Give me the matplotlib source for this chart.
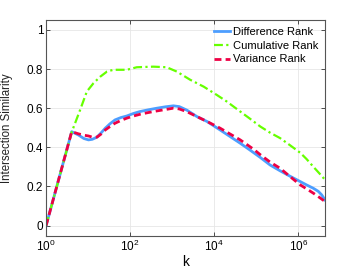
import numpy as np
import matplotlib
matplotlib.use('Agg')
import matplotlib.pyplot as plt

plt.rcParams['font.family'] = ['Liberation Sans', 'DejaVu Sans']
plt.rcParams['mathtext.fontset'] = 'custom'
plt.rcParams['mathtext.rm'] = 'Liberation Sans'

# data (x given as log10 k)
logk_diff = [0, 0.61, 0.77, 0.9, 1.01, 1.1, 1.21, 1.31, 1.41, 1.52, 1.64, 1.78,
             1.92, 2.08, 2.24, 2.44, 2.64, 2.84, 3.03, 3.17, 3.35, 3.59, 3.83,
             4.14, 4.38, 4.62, 4.86, 5.1, 5.33, 5.57, 5.81, 6.05, 6.2, 6.36,
             6.48, 6.56, 6.64]
difference = [0, 0.48, 0.463, 0.445, 0.438, 0.441, 0.452, 0.474, 0.498, 0.52,
              0.54, 0.552, 0.56, 0.573, 0.583, 0.592, 0.6, 0.607, 0.612, 0.608,
              0.59, 0.557, 0.532, 0.489, 0.455, 0.421, 0.385, 0.348, 0.31,
              0.28, 0.252, 0.225, 0.208, 0.191, 0.175, 0.157, 0.131]

logk_var = [0, 0.61, 0.77, 0.9, 1.01, 1.1, 1.21, 1.31, 1.41, 1.52, 1.64, 1.78,
            1.92, 2.08, 2.24, 2.44, 2.64, 2.84, 3.03, 3.17, 3.35, 3.59, 3.85,
            4.14, 4.38, 4.62, 4.94, 5.1, 5.33, 5.57, 5.81, 6.05, 6.2, 6.36,
            6.5, 6.64]
variance = [0, 0.48, 0.469, 0.462, 0.458, 0.452, 0.452, 0.468, 0.489, 0.506,
            0.523, 0.537, 0.549, 0.56, 0.569, 0.578, 0.586, 0.593, 0.6, 0.596,
            0.582, 0.557, 0.53, 0.498, 0.468, 0.438, 0.39, 0.362, 0.325,
            0.293, 0.25, 0.208, 0.188, 0.166, 0.145, 0.123]

logk_cum = [0, 0.61, 0.81, 0.97, 1.13, 1.29, 1.45, 1.6, 1.92, 2.16, 2.55, 2.87,
            3.11, 3.43, 3.75, 4.06, 4.3, 4.62, 4.86, 5.1, 5.33, 5.57, 5.81,
            6.05, 6.2, 6.36, 6.5, 6.64]
cumulative = [0, 0.478, 0.591, 0.685, 0.728, 0.761, 0.787, 0.796, 0.796, 0.809,
              0.812, 0.809, 0.787, 0.745, 0.71, 0.668, 0.634, 0.583, 0.545,
              0.506, 0.475, 0.447, 0.41, 0.372, 0.34, 0.301, 0.268, 0.234]

xticks = [1, 1e2, 1e4, 1e6]
xticklabels = ['$\\mathregular{10^{0}}$', '$\\mathregular{10^{2}}$',
               '$\\mathregular{10^{4}}$', '$\\mathregular{10^{6}}$']
yticks = [0, 0.2, 0.4, 0.6, 0.8, 1]
yticklabels = ['0', '0.2', '0.4', '0.6', '0.8', '1']

fig = plt.figure(figsize=(3.6, 2.71), dpi=100)
ax = fig.add_axes([0.128, 0.129, 0.775, 0.797])

ax.plot(10 ** np.array(logk_diff), difference, color='#4d9eff', lw=2.0,
        label='Difference Rank')
ax.plot(10 ** np.array(logk_cum), cumulative, color='#66ff00', lw=1.6,
        ls=(0, (4, 1.5, 1, 1.5)), label='Cumulative Rank')
ax.plot(10 ** np.array(logk_var), variance, color='#ee0044', lw=2.0,
        ls=(0, (2.5, 1.5)), label='Variance Rank')

ax.set_xscale('log')
ax.set_xlim(1, 10 ** 6.64)
ax.set_ylim(-0.053, 1.05)
ax.set_xticks(xticks)
ax.set_xticklabels(xticklabels)
ax.xaxis.set_minor_locator(matplotlib.ticker.NullLocator())
ax.set_yticks(yticks)
ax.set_yticklabels(yticklabels)
ax.tick_params(direction='in', top=True, right=True, length=3, width=0.6,
               labelsize=8.5, colors='#333333', labelcolor='black', pad=2)
ax.grid(True, color='#e6e6e6', lw=0.6)
ax.set_axisbelow(True)
for s in ax.spines.values():
    s.set_color('#555555')
    s.set_linewidth(0.8)

ax.set_xlabel('k', fontsize=10, labelpad=1)
ax.set_ylabel('Intersection Similarity', fontsize=8.3, color='#222222')
ax.yaxis.set_label_coords(-0.118, 0.5)

leg = ax.legend(loc='upper right', fontsize=8, frameon=False, handlelength=1.45,
                handletextpad=0.3, labelspacing=0.35, borderaxespad=0.2)

fig.savefig('out.png', dpi=100)
